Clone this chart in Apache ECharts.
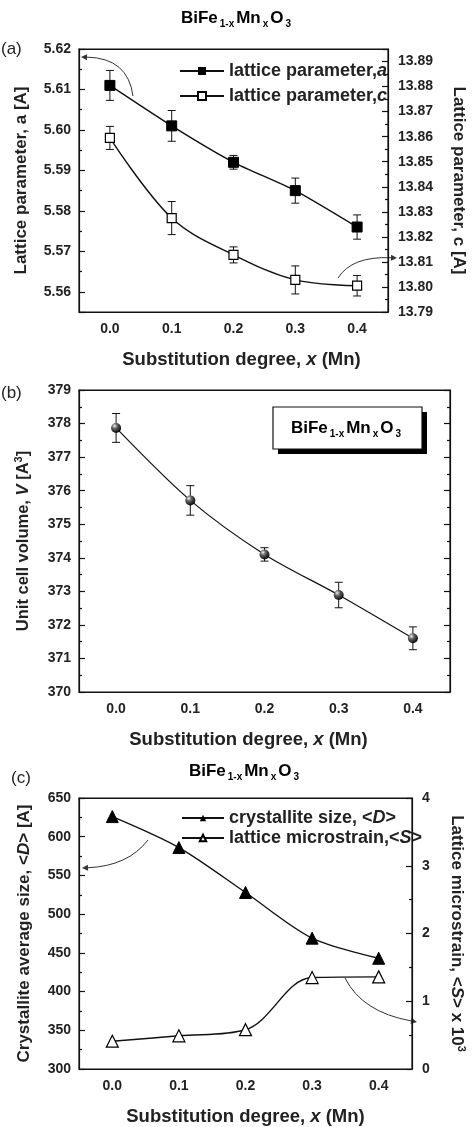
<!DOCTYPE html>
<html><head><meta charset="utf-8">
<script src="https://cdn.jsdelivr.net/npm/echarts@6/dist/echarts.min.js"></script>
<style>html,body{margin:0;padding:0;background:#fff}#c{width:475px;height:1127px}</style>
</head><body><div id="c"></div>
<script>
// ---- data ----
const xCats = ['0.0', '0.1', '0.2', '0.3', '0.4'];
const latticeA = [5.611, 5.601, 5.592, 5.585, 5.576];
const latticeAErr = [0.0037, 0.0038, 0.0017, 0.0031, 0.003];
const latticeC = [13.8595, 13.8275, 13.8128, 13.8028, 13.8005];
const latticeCErr = [0.0046, 0.0066, 0.0032, 0.0056, 0.0041];
const volume = [377.87, 375.71, 374.1, 372.89, 371.6];
const volumeErr = [0.43, 0.44, 0.2, 0.38, 0.34];
const crystSize = [626, 586, 528, 469, 443];
const microstrain = [0.41, 0.49, 0.58, 1.35, 1.36];

const FONT = 'Liberation Sans, Arial, sans-serif';
const chart = echarts.init(document.getElementById('c'));

const grids = [
  { left: 79, top: 49, width: 319, height: 263, show: true, borderColor: '#111', borderWidth: 1.2 },
  { left: 79, top: 390, width: 371, height: 302, show: true, borderColor: '#111', borderWidth: 1.2 },
  { left: 79, top: 798, width: 344, height: 277, show: true, borderColor: '#111', borderWidth: 1.2 }
];

const tickLabel = { fontFamily: FONT, fontWeight: 'bold', fontSize: 14, color: '#222' };
function nameStyleOf(fs, pad) {
  return {
    fontFamily: FONT, fontWeight: 'bold', fontSize: fs, color: '#222', padding: pad || 0,
    rich: {
      n: { fontFamily: FONT, fontWeight: 'bold', fontSize: fs, color: '#222' },
      i: { fontFamily: FONT, fontWeight: 'bold', fontStyle: 'italic', fontSize: fs, color: '#222' },
      sup: { fontFamily: FONT, fontWeight: 'bold', fontSize: 11, color: '#222', padding: [0, 0, 10, 0] }
    }
  };
}
const xName = '{n|Substitution degree, }{i|x}{n| (Mn)}';
const xNamePads = [[0, 0, 0, 16], [0, 32, 0, 0], [0, 0, 0, 0]];

const xAxes = [];
[0, 1, 2].forEach(g => {
  xAxes.push({ type: 'category', gridIndex: g, data: xCats, position: 'bottom', boundaryGap: true,
    axisLine: { lineStyle: { color: '#111', width: 1.2 } },
    axisTick: { inside: true, alignWithLabel: true, length: 6, lineStyle: { color: '#111', width: 1.2 } },
    axisLabel: Object.assign({ margin: 10 }, tickLabel),
    name: xName, nameLocation: 'middle', nameGap: 38, nameTextStyle: nameStyleOf(18.5, xNamePads[g]) });
  xAxes.push({ type: 'category', gridIndex: g, data: xCats, position: 'bottom', boundaryGap: true,
    axisLine: { show: false }, axisTick: { inside: true, length: 3, lineStyle: { color: '#111', width: 1.2 } },
    axisLabel: { show: false } });
  xAxes.push({ type: 'category', gridIndex: g, data: xCats, position: 'top', boundaryGap: true,
    axisLine: { lineStyle: { color: '#111', width: 1.2 } },
    axisTick: { inside: true, alignWithLabel: true, length: 6, lineStyle: { color: '#111', width: 1.2 } },
    axisLabel: { show: false } });
  xAxes.push({ type: 'category', gridIndex: g, data: xCats, position: 'top', boundaryGap: true,
    axisLine: { show: false }, axisTick: { inside: true, length: 3, lineStyle: { color: '#111', width: 1.2 } },
    axisLabel: { show: false } });
});

function yAx(o) {
  return Object.assign({
    type: 'value', splitLine: { show: false },
    axisLine: { show: true, lineStyle: { color: '#111', width: 1.2 } },
    axisTick: { show: true, inside: true, length: 6, lineStyle: { color: '#111', width: 1.2 } },
    minorTick: { show: true, splitNumber: 2, length: 3, lineStyle: { color: '#111', width: 1.2 } },
    nameLocation: 'middle', nameTextStyle: nameStyleOf(17)
  }, o);
}

const yAxes = [
  yAx({ gridIndex: 0, position: 'left', min: 5.555, max: 5.62, splitNumber: 7,
    axisLabel: Object.assign({ showMinLabel: false, margin: 8, formatter: v => v.toFixed(2) }, tickLabel),
    name: '{n|Lattice parameter, a [A]}', nameGap: 49 }),
  yAx({ gridIndex: 0, position: 'right', min: 13.79, max: 13.895, interval: 0.01,
    axisLabel: Object.assign({ showMaxLabel: false, margin: 10, formatter: v => v.toFixed(2) }, tickLabel),
    name: '{n|Lattice parameter, c [A]}', nameGap: 62, nameRotate: -90 }),
  yAx({ gridIndex: 1, position: 'left', min: 370, max: 379, interval: 1,
    axisLabel: Object.assign({ margin: 8 }, tickLabel),
    name: '{n|Unit cell volume, }{i|V}{n| [A}{sup|3}{n|]}', nameGap: 45, nameTextStyle: nameStyleOf(16.5) }),
  yAx({ gridIndex: 1, position: 'right', min: 370, max: 379, interval: 1, axisLabel: { show: false } }),
  yAx({ gridIndex: 2, position: 'left', min: 300, max: 650, interval: 50,
    axisLabel: Object.assign({ margin: 8 }, tickLabel),
    name: '{n|Crystallite average size, <}{i|D}{n|> [A]}', nameGap: 46 }),
  yAx({ gridIndex: 2, position: 'right', min: 0, max: 4, interval: 1,
    axisLabel: Object.assign({ margin: 10 }, tickLabel),
    name: '{n|Lattice microstrain, <}{i|S}{n|> x 10}{sup|3}', nameGap: 34, nameRotate: -90 })
];

function errSeries(xi, yi, vals, errs) {
  return {
    type: 'custom', xAxisIndex: xi, yAxisIndex: yi, z: 1, silent: true,
    data: vals.map((v, i) => [i, v - errs[i], v + errs[i]]),
    encode: { x: 0, y: [1, 2] },
    renderItem: (params, api) => {
      const x = api.value(0);
      const lo = api.coord([x, api.value(1)]);
      const hi = api.coord([x, api.value(2)]);
      const w = 4, st = { stroke: '#111', lineWidth: 1 };
      return { type: 'group', children: [
        { type: 'line', shape: { x1: lo[0], y1: lo[1], x2: hi[0], y2: hi[1] }, style: st },
        { type: 'line', shape: { x1: lo[0] - w, y1: lo[1], x2: lo[0] + w, y2: lo[1] }, style: st },
        { type: 'line', shape: { x1: hi[0] - w, y1: hi[1], x2: hi[0] + w, y2: hi[1] }, style: st }
      ] };
    }
  };
}

const sphere = new echarts.graphic.RadialGradient(0.35, 0.3, 0.75, [
  { offset: 0, color: '#f2f2f2' }, { offset: 0.35, color: '#666' }, { offset: 1, color: '#000' }
]);

const lineStyle = { color: '#111', width: 1.4 };
const series = [
  errSeries(0, 0, latticeA, latticeAErr),
  errSeries(0, 1, latticeC, latticeCErr),
  errSeries(4, 2, volume, volumeErr),
  { name: 'latA', type: 'line', xAxisIndex: 0, yAxisIndex: 0, data: latticeA, smooth: 0.2,
    symbol: 'rect', symbolSize: 10, lineStyle, itemStyle: { color: '#000', borderColor: '#000' }, z: 3 },
  { name: 'latC', type: 'line', xAxisIndex: 0, yAxisIndex: 1, data: latticeC, smooth: 0.35,
    symbol: 'rect', symbolSize: 9, lineStyle, itemStyle: { color: '#fff', borderColor: '#000', borderWidth: 1.2 }, z: 3 },
  { name: 'vol', type: 'line', xAxisIndex: 4, yAxisIndex: 2, data: volume, smooth: 0.3,
    symbol: 'circle', symbolSize: 10, lineStyle: { color: '#111', width: 1.2 }, itemStyle: { color: sphere }, z: 3 },
  { name: 'D', type: 'line', xAxisIndex: 8, yAxisIndex: 4, data: crystSize, smooth: 0.3,
    symbol: 'triangle', symbolSize: 12, lineStyle, itemStyle: { color: '#000', borderColor: '#000' }, z: 3 },
  { name: 'S', type: 'line', xAxisIndex: 8, yAxisIndex: 5, data: microstrain, smooth: 0.35,
    symbol: 'triangle', symbolSize: 12, lineStyle, itemStyle: { color: '#fff', borderColor: '#000', borderWidth: 1.2 }, z: 3 }
];

const legText = {
  fontFamily: FONT, fontWeight: 'bold', fontSize: 18, color: '#222', lineHeight: 18,
  rich: {
    n: { fontFamily: FONT, fontWeight: 'bold', fontSize: 18, color: '#222', lineHeight: 18 },
    i: { fontFamily: FONT, fontWeight: 'bold', fontStyle: 'italic', fontSize: 18, color: '#222', lineHeight: 18 }
  }
};
const legendNames = {
  latA: '{n|lattice parameter,}{i|a}',
  latC: '{n|lattice parameter,}{i|c}',
  D: '{n|crystallite size, <}{i|D}{n|>}',
  S: '{n|lattice microstrain,<}{i|S}{n|>}'
};
const legends = [
  { data: ['latA', 'latC'], left: 179, top: 62, orient: 'vertical', itemWidth: 44, itemHeight: 10, itemGap: 7,
    padding: 0, formatter: n => legendNames[n], textStyle: legText, selectedMode: false },
  { data: ['D', 'S'], left: 181, top: 809, orient: 'vertical', itemWidth: 42, itemHeight: 8, itemGap: 2,
    padding: 0, formatter: n => legendNames[n], textStyle: legText, selectedMode: false }
];

function formulaRich(fs) {
  return {
    b: { fontFamily: FONT, fontWeight: 'bold', fontSize: fs, color: '#222', lineHeight: 20 },
    s: { fontFamily: FONT, fontWeight: 'bold', fontSize: 10, color: '#222', lineHeight: 10, padding: [12, 2, 0, 2] }
  };
}
const formula = '{b|BiFe}{s|1-x}{b|Mn}{s|x}{b|O}{s|3}';

function arrow(p0, c, p1) {
  const ang = Math.atan2(p1[1] - c[1], p1[0] - c[0]);
  const L = 6, W = 3;
  const bx = p1[0] - L * Math.cos(ang), by = p1[1] - L * Math.sin(ang);
  const nx = -Math.sin(ang) * W, ny = Math.cos(ang) * W;
  return [
    { type: 'bezierCurve', shape: { x1: p0[0], y1: p0[1], cpx1: c[0], cpy1: c[1], x2: bx, y2: by },
      style: { stroke: '#333', lineWidth: 1, fill: null } },
    { type: 'polygon', shape: { points: [[p1[0], p1[1]], [bx + nx, by + ny], [bx - nx, by - ny]] },
      style: { fill: '#333' } }
  ];
}

const graphics = [
  { type: 'text', x: 237, y: 18, style: { text: formula, rich: formulaRich(17), align: 'center', verticalAlign: 'middle' } },
  { type: 'text', x: 245, y: 771, style: { text: formula, rich: formulaRich(17), align: 'center', verticalAlign: 'middle' } },
  { type: 'text', x: 1, y: 49, style: { text: '(a)', font: '17px ' + FONT, fill: '#222', verticalAlign: 'middle' } },
  { type: 'text', x: 1, y: 393, style: { text: '(b)', font: '17px ' + FONT, fill: '#222', verticalAlign: 'middle' } },
  { type: 'text', x: 11, y: 778, style: { text: '(c)', font: '17px ' + FONT, fill: '#222', verticalAlign: 'middle' } },
  { type: 'rect', shape: { x: 278, y: 412, width: 149, height: 42 }, style: { fill: '#000' } },
  { type: 'rect', shape: { x: 273, y: 407, width: 149, height: 42 }, style: { fill: '#fff', stroke: '#111', lineWidth: 1.2 } },
  { type: 'text', x: 347, y: 428, style: { text: formula, rich: formulaRich(17), align: 'center', verticalAlign: 'middle' } }
]
  .concat(arrow([133, 96], [128, 58], [81, 57]))
  .concat(arrow([338, 278], [352, 256], [397, 258]))
  .concat(arrow([148, 840], [128, 866], [82, 868]))
  .concat(arrow([345, 978], [362, 1012], [417, 1022]));

chart.setOption({
  animation: false,
  backgroundColor: '#fff',
  grid: grids,
  xAxis: xAxes,
  yAxis: yAxes,
  legend: legends,
  series,
  graphic: graphics
});
</script></body></html>
